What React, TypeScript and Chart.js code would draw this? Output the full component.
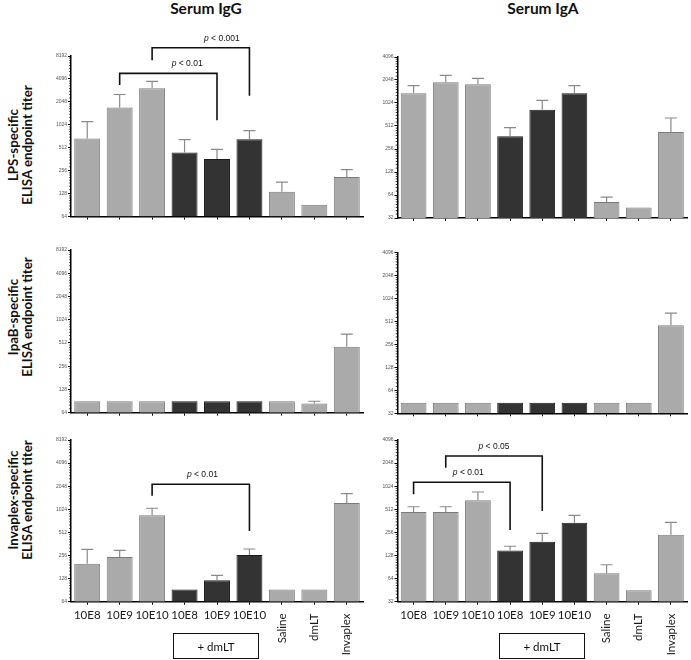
import React, { useEffect, useRef } from 'react';
import { Chart, registerables } from 'chart.js';
Chart.register(...registerables);

const categories = ['10E8', '10E9', '10E10', '10E8', '10E9', '10E10', 'Saline', 'dmLT', 'Invaplex'];
const rotatedLabel = [false, false, false, false, false, false, true, true, true];
const withDmLT = [false, false, false, true, true, true, false, false, false];

const igGTicks = [64, 128, 256, 512, 1024, 2048, 4096, 8192];
const igATicks = [32, 64, 128, 256, 512, 1024, 2048, 4096];

const lpsIgG = [675, 1728, 3100, 442, 364, 661, 135, 91, 211];
const lpsIgGErr = [1128, 2560, 3800, 655, 488, 860, 181, null, 264];
const lpsIgA = [1370, 1910, 1800, 375, 838, 1370, 52, 44, 428];
const lpsIgAErr = [1725, 2360, 2150, 487, 1110, 1725, 60, null, 652];

const ipabIgG = [90, 90, 90, 90, 90, 90, 90, 84, 459];
const ipabIgGErr = [null, null, null, null, null, null, null, 90, 666];
const ipabIgA = [44, 44, 44, 44, 44, 44, 44, 44, 454];
const ipabIgAErr = [null, null, null, null, null, null, null, null, 657];

const invIgG = [200, 245, 855, 92, 122, 260, 92, 92, 1236];
const invIgGErr = [308, 299, 1056, null, 141, 311, null, null, 1635];
const invIgA = [471, 471, 670, 149, 194, 343, 75, 45, 239];
const invIgAErr = [553, 553, 860, 169, 249, 427, 97, null, 346];

type Bracket = { from: number; to: number; top: number; leftEnd: number; rightEnd: number; label: string; labelAt: number };

const lpsIgGBrackets: Bracket[] = [
  { from: 2, to: 5, top: 10500, leftEnd: 7180, rightEnd: 2460, label: '0.001', labelAt: 4.15 },
  { from: 1, to: 4, top: 4840, leftEnd: 3400, rightEnd: 1176, label: '0.01', labelAt: 3.08 },
];
const invIgGBrackets: Bracket[] = [
  { from: 2, to: 5, top: 2170, leftEnd: 1540, rightEnd: 534, label: '0.01', labelAt: 3.55 },
];
const invIgABrackets: Bracket[] = [
  { from: 1, to: 4, top: 2537, leftEnd: 1782, rightEnd: 486, label: '0.05', labelAt: 2.5 },
  { from: 0, to: 3, top: 1152, leftEnd: 803, rightEnd: 275, label: '0.01', labelAt: 1.7 },
];

type Rect = { left: number; top: number; right: number; bottom: number };
type PanelProps = {
  values: number[];
  errors: (number | null)[];
  ticks: number[];
  canvasRect: Rect;
  area: Rect;
  brackets: Bracket[];
  showLabels: boolean;
};

const LIGHT = '#aaaaaa';
const LIGHT_BORDER = '#7a7a7a';
const DARK = '#333333';
const DARK_BORDER = '#1c1c1c';
const FONT = 'Lato, "Open Sans", sans-serif';

function Panel({ values, errors, ticks, canvasRect, area, brackets, showLabels }: PanelProps) {
  const ref = useRef<HTMLCanvasElement | null>(null);
  const W = canvasRect.right - canvasRect.left;
  const H = canvasRect.bottom - canvasRect.top;
  useEffect(() => {
    if (!ref.current) return;
    const xAxisH = 4;
    const yAxisW = area.left - canvasRect.left;
    const padTop = area.top - canvasRect.top;
    const padRight = canvasRect.right - area.right;
    const padBottom = canvasRect.bottom - area.bottom - xAxisH;

    const overlay = {
      id: 'overlay',
      afterDatasetsDraw(chart: any) {
        const ctx = chart.ctx;
        const ys = chart.scales.y;
        const meta = chart.getDatasetMeta(0);
        ctx.save();
        ctx.strokeStyle = '#8a8a8a';
        ctx.lineWidth = 1.2;
        errors.forEach((e, i) => {
          if (e == null) return;
          const x = meta.data[i].x;
          const yTop = ys.getPixelForValue(e);
          const yBar = ys.getPixelForValue(values[i]);
          ctx.beginPath();
          ctx.moveTo(x, yBar);
          ctx.lineTo(x, yTop);
          ctx.moveTo(x - 6, yTop);
          ctx.lineTo(x + 6, yTop);
          ctx.stroke();
        });
        ctx.restore();
      },
      afterDraw(chart: any) {
        const ctx = chart.ctx;
        const xs = chart.scales.x;
        const ys = chart.scales.y;
        const ca = chart.chartArea;
        ctx.save();
        ctx.strokeStyle = '#000';
        ctx.lineWidth = 0.8;
        for (let t = 0; t < ticks.length - 1; t++) {
          const v = ticks[t];
          for (let k = 1; k < 8; k++) {
            const y = ys.getPixelForValue(v * (1 + k / 8));
            ctx.beginPath();
            ctx.moveTo(ca.left - 1.8, y);
            ctx.lineTo(ca.left, y);
            ctx.stroke();
          }
        }
        ctx.strokeStyle = '#111';
        ctx.lineWidth = 1.6;
        brackets.forEach((b) => {
          const x1 = xs.getPixelForValue(b.from);
          const x2 = xs.getPixelForValue(b.to);
          const yt = ys.getPixelForValue(b.top);
          const yl = ys.getPixelForValue(b.leftEnd);
          const yr = ys.getPixelForValue(b.rightEnd);
          ctx.beginPath();
          ctx.moveTo(x1, yl);
          ctx.lineTo(x1, yt);
          ctx.lineTo(x2, yt);
          ctx.lineTo(x2, yr);
          ctx.stroke();
          const lx = xs.getPixelForValue(b.labelAt);
          const rest = ' < ' + b.label;
          ctx.fillStyle = '#111';
          ctx.textBaseline = 'alphabetic';
          ctx.textAlign = 'left';
          ctx.font = 'italic 8.5px "Liberation Sans", Arial, sans-serif';
          const wp = ctx.measureText('p').width;
          ctx.font = '8.5px "Liberation Sans", Arial, sans-serif';
          const wr = ctx.measureText(rest).width;
          const sx = lx - (wp + wr) / 2;
          ctx.font = 'italic 8.5px "Liberation Sans", Arial, sans-serif';
          ctx.fillText('p', sx, yt - 7);
          ctx.font = '8.5px "Liberation Sans", Arial, sans-serif';
          ctx.fillText(rest, sx + wp, yt - 7);
        });
        if (showLabels) {
          ctx.fillStyle = '#1a1a1a';
          ctx.font = '11.5px ' + FONT;
          const ly = 615.5 - canvasRect.top;
          categories.forEach((c, i) => {
            const x = xs.getPixelForValue(i);
            if (rotatedLabel[i]) {
              ctx.save();
              ctx.translate(x, 613.5 - canvasRect.top);
              ctx.rotate(-Math.PI / 2);
              ctx.textAlign = 'right';
              ctx.textBaseline = 'middle';
              ctx.fillText(c, 0, 0);
              ctx.restore();
            } else {
              ctx.textAlign = 'center';
              ctx.textBaseline = 'middle';
              ctx.fillText(c, x, ly);
            }
          });
        }
        ctx.restore();
      },
    };

    const chart = new Chart(ref.current, {
      type: 'bar',
      data: {
        labels: categories,
        datasets: [
          {
            data: values,
            backgroundColor: withDmLT.map((d) => (d ? DARK : LIGHT)),
            borderColor: withDmLT.map((d) => (d ? DARK_BORDER : LIGHT_BORDER)),
            borderWidth: 1,
            barPercentage: 0.8,
            categoryPercentage: 1.0,
          },
        ],
      },
      options: {
        responsive: false,
        animation: false,
        devicePixelRatio: 1,
        layout: { padding: { top: padTop, right: padRight, bottom: padBottom, left: 0 } },
        plugins: { legend: { display: false }, tooltip: { enabled: false }, title: { display: false } },
        scales: {
          x: {
            type: 'category',
            offset: true,
            grid: { display: true, drawOnChartArea: false, offset: false, drawTicks: true, tickLength: 3, color: '#000', lineWidth: 1 },
            border: { display: true, color: '#000', width: 1.5 },
            ticks: { display: false },
            afterFit: (s: any) => {
              s.height = xAxisH;
            },
          },
          y: {
            type: 'logarithmic',
            min: ticks[0],
            max: ticks[ticks.length - 1],
            afterBuildTicks: (axis: any) => {
              axis.ticks = ticks.map((v) => ({ value: v }));
            },
            afterFit: (s: any) => {
              s.width = yAxisW;
            },
            grid: { display: true, drawOnChartArea: false, drawTicks: true, tickLength: 3, color: '#000', lineWidth: 1 },
            border: { display: true, color: '#000', width: 1.5 },
            ticks: {
              autoSkip: false,
              padding: 1,
              color: '#555',
              font: { size: 5, family: '"Liberation Sans", Arial, sans-serif' },
              callback: (v: any) => String(v),
            },
          },
        },
      },
      plugins: [overlay],
    } as any);
    return () => chart.destroy();
  }, []);
  return (
    <canvas
      ref={ref}
      width={W}
      height={H}
      style={{ position: 'absolute', left: canvasRect.left, top: canvasRect.top, width: W, height: H, display: 'block' }}
    />
  );
}

const rowLabels = [
  { l1: 'LPS-specific', y: 145 },
  { l1: 'IpaB-specific', y: 317 },
  { l1: 'Invaplex-specific', y: 500 },
];

const titleStyle: React.CSSProperties = {
  position: 'absolute',
  top: 0,
  width: 160,
  height: 16,
  lineHeight: '16px',
  textAlign: 'center',
  fontWeight: 700,
  fontSize: 15.5,
  whiteSpace: 'nowrap',
  color: '#111',
};

const boxStyle: React.CSSProperties = {
  position: 'absolute',
  top: 633,
  width: 86,
  height: 26,
  boxSizing: 'border-box',
  border: '1px solid #111',
  display: 'flex',
  alignItems: 'center',
  justifyContent: 'center',
  fontSize: 11.5,
  color: '#111',
};

export default function App() {
  return (
    <div style={{ position: 'absolute', left: 0, top: 0, width: 691, height: 660, background: '#fff', overflow: 'hidden', fontFamily: FONT }}>
      <div style={{ ...titleStyle, left: 206 - 80 }}>Serum IgG</div>
      <div style={{ ...titleStyle, left: 543 - 80 }}>Serum IgA</div>
      {rowLabels.map((r, i) => (
        <div
          key={i}
          style={{
            position: 'absolute',
            left: 19.5 - 100,
            top: r.y - 14,
            width: 200,
            height: 28,
            transform: 'rotate(-90deg)',
            transformOrigin: '50% 50%',
            textAlign: 'center',
            fontWeight: 700,
            fontSize: 13.3,
            lineHeight: '14px',
            color: '#111',
            whiteSpace: 'nowrap',
          }}
        >
          <div>{r.l1}</div>
          <div>ELISA endpoint titer</div>
        </div>
      ))}
      <Panel values={lpsIgG} errors={lpsIgGErr} ticks={igGTicks} brackets={lpsIgGBrackets} showLabels={false}
        canvasRect={{ left: 40, top: 20, right: 366, bottom: 226 }} area={{ left: 71, top: 56, right: 363, bottom: 216.5 }} />
      <Panel values={lpsIgA} errors={lpsIgAErr} ticks={igATicks} brackets={[]} showLabels={false}
        canvasRect={{ left: 366, top: 20, right: 691, bottom: 226 }} area={{ left: 397.5, top: 57, right: 687, bottom: 218 }} />
      <Panel values={ipabIgG} errors={ipabIgGErr} ticks={igGTicks} brackets={[]} showLabels={false}
        canvasRect={{ left: 40, top: 226, right: 366, bottom: 420 }} area={{ left: 71, top: 250, right: 363, bottom: 412.7 }} />
      <Panel values={ipabIgA} errors={ipabIgAErr} ticks={igATicks} brackets={[]} showLabels={false}
        canvasRect={{ left: 366, top: 226, right: 691, bottom: 420 }} area={{ left: 397.5, top: 252.3, right: 687, bottom: 413.3 }} />
      <Panel values={invIgG} errors={invIgGErr} ticks={igGTicks} brackets={invIgGBrackets} showLabels={true}
        canvasRect={{ left: 40, top: 420, right: 366, bottom: 660 }} area={{ left: 71, top: 440, right: 363, bottom: 601.7 }} />
      <Panel values={invIgA} errors={invIgAErr} ticks={igATicks} brackets={invIgABrackets} showLabels={true}
        canvasRect={{ left: 366, top: 420, right: 691, bottom: 660 }} area={{ left: 397.5, top: 440, right: 687, bottom: 601.7 }} />
      <div style={{ ...boxStyle, left: 173 }}>+ dmLT</div>
      <div style={{ ...boxStyle, left: 499 }}>+ dmLT</div>
    </div>
  );
}
